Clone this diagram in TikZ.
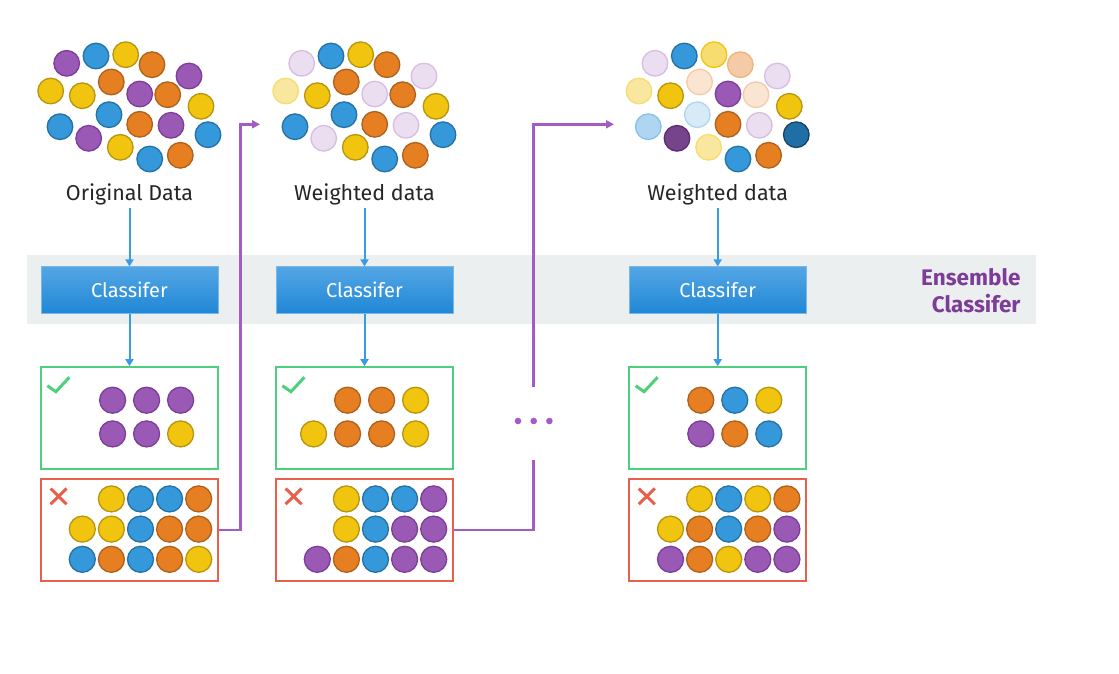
\documentclass[tikz,border=0pt]{standalone}
\usepackage{fontspec}
\setmainfont{Fira Sans}
\usetikzlibrary{arrows.meta}

\definecolor{pFill}{HTML}{9B59B6}\definecolor{pLine}{HTML}{7D3C98}
\definecolor{bFill}{HTML}{3498DB}\definecolor{bLine}{HTML}{2471A3}
\definecolor{yFill}{HTML}{F1C40F}\definecolor{yLine}{HTML}{B7950B}
\definecolor{oFill}{HTML}{E67E22}\definecolor{oLine}{HTML}{AF601A}
\definecolor{plFill}{HTML}{EBDEF0}\definecolor{plLine}{HTML}{D7BDE2}
\definecolor{pdFill}{HTML}{76448A}\definecolor{pdLine}{HTML}{5B2C6F}
\definecolor{blFill}{HTML}{D6EAF8}\definecolor{blLine}{HTML}{AED6F1}
\definecolor{bmFill}{HTML}{AED6F1}\definecolor{bmLine}{HTML}{85C1E9}
\definecolor{bdFill}{HTML}{1F6EA5}\definecolor{bdLine}{HTML}{154360}
\definecolor{ylFill}{HTML}{F9E79F}\definecolor{ylLine}{HTML}{F7DC6F}
\definecolor{ymFill}{HTML}{F7DC6F}\definecolor{ymLine}{HTML}{F1C40F}
\definecolor{olFill}{HTML}{FAE5D3}\definecolor{olLine}{HTML}{F5CBA7}
\definecolor{omFill}{HTML}{F5CBA7}\definecolor{omLine}{HTML}{F0B27A}
\definecolor{bandGray}{HTML}{ECEFF0}
\definecolor{clfTop}{HTML}{54A6E4}
\definecolor{clfBot}{HTML}{1F87D6}
\definecolor{okGreen}{HTML}{4CD07D}
\definecolor{errRed}{HTML}{E8604C}
\definecolor{flowBlue}{HTML}{3A9BE0}
\definecolor{boostPurple}{HTML}{A35CC4}
\definecolor{ensPurple}{HTML}{7D3C98}

\tikzset{
	dot/.style={line width=1.3pt},
	dotP/.style={fill=pFill, draw=pLine},
	dotB/.style={fill=bFill, draw=bLine},
	dotY/.style={fill=yFill, draw=yLine},
	dotO/.style={fill=oFill, draw=oLine},
	dotPl/.style={fill=plFill, draw=plLine},
	dotPd/.style={fill=pdFill, draw=pdLine},
	dotBl/.style={fill=blFill, draw=blLine},
	dotBm/.style={fill=bmFill, draw=bmLine},
	dotBd/.style={fill=bdFill, draw=bdLine},
	dotYl/.style={fill=ylFill, draw=ylLine},
	dotYm/.style={fill=ymFill, draw=ymLine},
	dotOl/.style={fill=olFill, draw=olLine},
	dotOm/.style={fill=omFill, draw=omLine},
}

\begin{document}
\begin{tikzpicture}[x=1pt,y=-1pt,
	datalabel/.style={font=\fontsize{21.5}{26}\selectfont, text=black!85, inner sep=3pt},
	clfbox/.style={minimum width=177pt, minimum height=47pt, inner sep=0pt,
		top color=clfTop, bottom color=clfBot, draw=clfTop!80!white, line width=0.8pt,
		text=white, font=\fontsize{20}{24}\selectfont},
	okbox/.style={draw=okGreen, line width=2.2pt, minimum width=177pt, minimum height=102pt, inner sep=0pt},
	errbox/.style={draw=errRed, line width=2.2pt, minimum width=177pt, minimum height=102pt, inner sep=0pt},
	flow/.style={draw=flowBlue, line width=2pt, -{Triangle[length=7pt,width=8pt]}},
	boost/.style={draw=boostPurple, line width=2.6pt},
	]
	\useasboundingbox (0,0) rectangle (1119,673);
	%draw gray band
	\fill[bandGray] (27,255) rectangle (1036,324);
	\node[font=\bfseries\fontsize{22.5}{27}\selectfont, text=ensPurple, align=right, anchor=east] (ens) at (1024,291) {Ensemble\\Classifer};

	%draw clouds of data points
	\foreach \x/\y/\s in {66.7/63.3/dotP, 96/56/dotB, 125.7/54.7/dotY, 152/64.7/dotO, 189/76/dotP,
		50.7/91/dotY, 111.3/82/dotO, 82.3/95.7/dotY, 139.7/94/dotP, 167.7/94.7/dotO,
		201/106.3/dotY, 109/114.7/dotB, 60/126.7/dotB, 139.7/124.3/dotO, 171/125.3/dotP,
		88.7/138.3/dotP, 208/134.7/dotB, 120.3/147.3/dotY, 149.7/159/dotB, 180.3/155.3/dotO}{%
		\draw[dot,\s] (\x,\y) circle (12.8pt);
	}
	\begin{scope}[shift={(235,0)}]
	\foreach \x/\y/\s in {66.7/63.3/dotPl, 96/56/dotB, 125.7/54.7/dotY, 152/64.7/dotO, 189/76/dotPl,
		50.7/91/dotYl, 111.3/82/dotO, 82.3/95.7/dotY, 139.7/94/dotPl, 167.7/94.7/dotO,
		201/106.3/dotY, 109/114.7/dotB, 60/126.7/dotB, 139.7/124.3/dotO, 171/125.3/dotPl,
		88.7/138.3/dotPl, 208/134.7/dotB, 120.3/147.3/dotY, 149.7/159/dotB, 180.3/155.3/dotO}{%
		\draw[dot,\s] (\x,\y) circle (12.8pt);
	}
	\end{scope}
	\begin{scope}[shift={(588.3,0)}]
	\foreach \x/\y/\s in {66.7/63.3/dotPl, 96/56/dotB, 125.7/54.7/dotYm, 152/64.7/dotOm, 189/76/dotPl,
		50.7/91/dotYl, 111.3/82/dotOl, 82.3/95.7/dotY, 139.7/94/dotP, 167.7/94.7/dotOl,
		201/106.3/dotY, 109/114.7/dotBl, 60/126.7/dotBm, 139.7/124.3/dotO, 171/125.3/dotPl,
		88.7/138.3/dotPd, 208/134.7/dotBd, 120.3/147.3/dotYl, 149.7/159/dotB, 180.3/155.3/dotO}{%
		\draw[dot,\s] (\x,\y) circle (12.8pt);
	}
	\end{scope}

	%draw labels and boxes
	\node[datalabel] (data1) at (129.5,194.5) {Original Data};
	\node[datalabel] (data2) at (364.5,194.5) {Weighted data};
	\node[datalabel] (data3) at (717.7,194.5) {Weighted data};
	\node[clfbox] (clf1) at (129.5,290.3) {Classifer};
	\node[clfbox] (clf2) at (364.5,290.3) {Classifer};
	\node[clfbox] (clf3) at (717.7,290.3) {Classifer};
	\node[okbox] (ok1) at (129.5,418.3) {};
	\node[okbox] (ok2) at (364.5,418.3) {};
	\node[okbox] (ok3) at (717.7,418.3) {};
	\node[errbox] (err1) at (129.5,530) {};
	\node[errbox] (err2) at (364.5,530) {};
	\node[errbox] (err3) at (717.7,530) {};

	%draw check marks and crosses
	\foreach \b in {ok1, ok2, ok3}{%
		\draw[okGreen, line width=3pt, line join=miter]
			([shift={(7.5,19.5)}]\b.north west) -- ([shift={(16,25.5)}]\b.north west) -- ([shift={(29.5,11)}]\b.north west);
	}
	\foreach \b in {err1, err2, err3}{%
		\draw[errRed, line width=3pt]
			([shift={(10.7,10.6)}]\b.north west) -- ([shift={(26.7,26.3)}]\b.north west)
			([shift={(10.7,26.3)}]\b.north west) -- ([shift={(26.7,10.6)}]\b.north west);
	}

	%draw points in the boxes
	\begin{scope}[shift={(ok1.north west)}]
	\foreach \c/\r/\s in {2/1/dotP, 3/1/dotP, 4/1/dotP, 2/2/dotP, 3/2/dotP, 4/2/dotY}{%
		\draw[dot,\s] ({38.7+34*(\c-1)},{34+33.7*(\r-1)}) circle (13pt);
	}
	\end{scope}
	\begin{scope}[shift={(ok2.north west)}]
	\foreach \c/\r/\s in {2/1/dotO, 3/1/dotO, 4/1/dotY, 1/2/dotY, 2/2/dotO, 3/2/dotO, 4/2/dotY}{%
		\draw[dot,\s] ({38.7+34*(\c-1)},{34+33.7*(\r-1)}) circle (13pt);
	}
	\end{scope}
	\begin{scope}[shift={(ok3.north west)}]
	\foreach \c/\r/\s in {2/1/dotO, 3/1/dotB, 4/1/dotY, 2/2/dotP, 3/2/dotO, 4/2/dotB}{%
		\draw[dot,\s] ({38.7+34*(\c-1)},{34+33.7*(\r-1)}) circle (13pt);
	}
	\end{scope}
	\begin{scope}[shift={(err1.north west)}]
	\foreach \c/\r/\s in {2/1/dotY, 3/1/dotB, 4/1/dotB, 5/1/dotO,
		1/2/dotY, 2/2/dotY, 3/2/dotB, 4/2/dotO, 5/2/dotO,
		1/3/dotB, 2/3/dotO, 3/3/dotB, 4/3/dotO, 5/3/dotY}{%
		\draw[dot,\s] ({42.4+29.1*(\c-1)},{21+30.2*(\r-1)}) circle (13pt);
	}
	\end{scope}
	\begin{scope}[shift={(err2.north west)}]
	\foreach \c/\r/\s in {2/1/dotY, 3/1/dotB, 4/1/dotB, 5/1/dotP,
		2/2/dotY, 3/2/dotB, 4/2/dotP, 5/2/dotP,
		1/3/dotP, 2/3/dotO, 3/3/dotB, 4/3/dotP, 5/3/dotP}{%
		\draw[dot,\s] ({42.4+29.1*(\c-1)},{21+30.2*(\r-1)}) circle (13pt);
	}
	\end{scope}
	\begin{scope}[shift={(err3.north west)}]
	\foreach \c/\r/\s in {2/1/dotY, 3/1/dotB, 4/1/dotY, 5/1/dotO,
		1/2/dotY, 2/2/dotO, 3/2/dotB, 4/2/dotO, 5/2/dotP,
		1/3/dotP, 2/3/dotO, 3/3/dotY, 4/3/dotP, 5/3/dotP}{%
		\draw[dot,\s] ({42.4+29.1*(\c-1)},{21+30.2*(\r-1)}) circle (13pt);
	}
	\end{scope}

	%draw blue arrows
	\foreach \i in {1,2,3}{%
		\draw[flow] (data\i) -- (clf\i);
		\draw[flow] (clf\i) -- (ok\i);
	}

	%draw purple connectors
	\coordinate (in2) at (260,124.3);
	\coordinate (in3) at (614,124.3);
	\node[inner sep=0pt, minimum size=6pt] (more) at (533.7,421) {};
	\foreach \d in {-15.7,0,15.7}{%
		\fill[boostPurple] ([xshift=\d pt]more.center) circle (3.3pt);
	}
	\draw[boost, -{Triangle[length=8pt,width=8pt]}] (err1.east) -- ++(21.3,0) |- (in2);
	\draw[boost] (err2.east) -| ([yshift=-39pt]more.center);
	\draw[boost, -{Triangle[length=8pt,width=8pt]}] ([yshift=34pt]more.center) |- (in3);
\end{tikzpicture}
\end{document}
